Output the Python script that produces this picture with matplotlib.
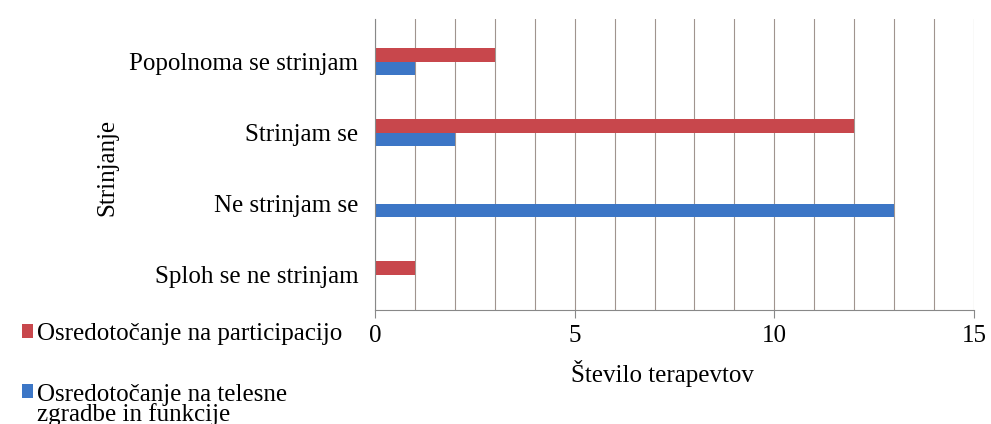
import matplotlib.pyplot as plt
from matplotlib.patches import Rectangle
from matplotlib.legend_handler import HandlerPatch
import numpy as np

plt.rcParams['font.family'] = ['Liberation Serif', 'DejaVu Serif']

# categories bottom -> top
categories = ["Sploh se ne strinjam", "Ne strinjam se", "Strinjam se", "Popolnoma se strinjam"]
participacija = [1, 0, 12, 3]
telesne = [0, 13, 2, 1]
labels = ["Osredotočanje na participacijo", "Osredotočanje na telesne\nzgradbe in funkcije"]
xticks = [0, 5, 10, 15]

red = "#C8474C"
blue = "#3C76C6"
FS = 18
LS = 0.8  # tight line spacing of the wrapped legend label

fig = plt.figure(figsize=(9.91, 4.24), dpi=100)
ax = fig.add_axes([375 / 991, 1 - 310 / 424, (974 - 375) / 991, (310 - 19) / 424])

y = np.arange(len(categories))
h = 0.19
b1 = ax.barh(y + h / 2, participacija, height=h, color=red, label=labels[0])
b2 = ax.barh(y - h / 2, telesne, height=h, color=blue, label=labels[1])

ax.set_xlim(0, 15)
ax.set_ylim(-0.5, 3.6)
ax.set_xticks(xticks)
ax.set_xticks(np.arange(0, 16, 1), minor=True)
ax.set_yticks(y)
ax.set_yticklabels(categories, fontsize=FS)
ax.tick_params(axis='x', which='major', labelsize=FS, length=6, color='#888888', pad=5)
ax.tick_params(axis='x', which='minor', length=0)
ax.tick_params(axis='y', length=0, pad=12)
ax.grid(axis='x', which='both', color='#a0948f', linewidth=0.8)
ax.set_axisbelow(True)
for s in ['top', 'right']:
    ax.spines[s].set_visible(False)
for s in ['left', 'bottom']:
    ax.spines[s].set_color('#888888')

ax.set_xlabel("Število terapevtov", fontsize=FS)
ax.xaxis.set_label_coords(0.48, -0.172)
ax.set_ylabel("Strinjanje", fontsize=FS)
ax.yaxis.set_label_coords(-0.429, 0.49)


# put the square next to the first line of a two-line label
def square_top(nlines, shift=0.55):
    def make(legend, orig_handle, xdescent, ydescent, width, height, fontsize):
        return Rectangle((-xdescent, -ydescent + (nlines - 1) * fontsize * shift),
                         width, height)
    return make


h1 = b1.patches[0]
h2 = b2.patches[1]
leg = fig.legend(handles=[h1, h2], labels=labels, loc='upper left',
                 bbox_to_anchor=(22 / 991, 1 - 323 / 424), frameon=False,
                 fontsize=FS, handlelength=0.45, handleheight=0.45, handletextpad=0.15,
                 labelspacing=1.58, borderaxespad=0, borderpad=0,
                 handler_map={h2: HandlerPatch(patch_func=square_top(2))})
for t in leg.get_texts():
    t.set_linespacing(LS)

fig.savefig("out.png", dpi=100)
